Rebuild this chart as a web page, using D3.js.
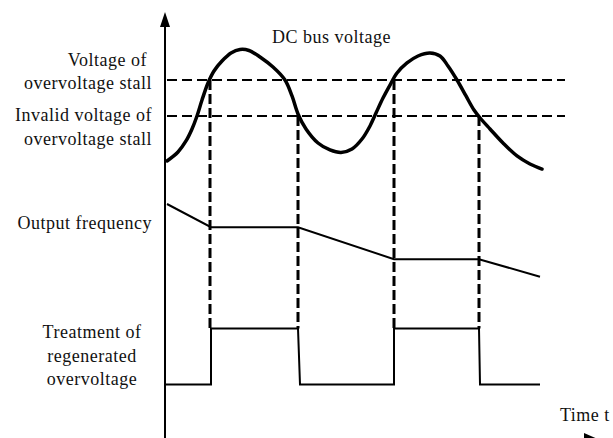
<!DOCTYPE html>
<html>
<head>
<meta charset="utf-8">
<script src="https://cdn.jsdelivr.net/npm/d3@7/dist/d3.min.js"></script>
<style>
  html, body { margin: 0; padding: 0; background: #fff; }
  svg { display: block; }
  text { font-family: "Liberation Serif", "Times New Roman", serif; font-size: 18px; letter-spacing: 0.5px; fill: #111; }
</style>
</head>
<body>
<svg id="chart" width="613" height="438"></svg>
<script>
// DC bus voltage over time (time units 0..100, voltage in relative units 0..100)
const busTime = [0.5, 3.25, 5.25, 6.75, 8, 9.25, 10.75, 12.25, 14.25, 16.5, 18.75, 21, 23.75, 27, 30,
  31.75, 33.25, 35.25, 38.25, 41.25, 44, 46.75, 49.25, 51.25, 52.75, 54.5, 56.25, 58, 60.5, 63.25,
  66.25, 68.75, 70.75, 73, 75.25, 77.25, 79, 81.25, 84.5, 88, 91.25, 94.25];
const busVoltage = [7.5, 15, 24.2, 34.2, 45, 58.3, 72.5, 82.5, 90.8, 97.5, 100.4, 99.6, 94.2, 85.8, 75,
  61.7, 46.7, 34.2, 22.5, 16.7, 14.6, 17.5, 25.8, 36.7, 47.5, 60, 70.8, 80.8, 89.2, 95,
  97.5, 95, 86.7, 75, 61.7, 50, 42.5, 34.2, 22.5, 11.7, 5, 0.8];

// Thresholds on the bus voltage
const stallVoltage = 75;     // voltage of overvoltage stall
const invalidVoltage = 45;   // invalid voltage of overvoltage stall

// Output frequency (relative units)
const freqTime = [0.5, 11.5, 33.25, 57.25, 78.5, 93.75];
const freqValue = [95, 66, 66, 26, 26, 4];

// Regenerated overvoltage treatment state (0 = off, 1 = on)
const stateTime = [0.25, 11.5, 11.5, 33.25, 33.75, 57.25, 57.25, 78.5, 78.75, 93.75];
const stateValue = [0, 0, 1, 1, 0, 0, 1, 1, 0, 0];

// Switching instants and the threshold reached at each
const eventTime = [11.25, 33.25, 57.25, 78.5];
const eventLevel = [stallVoltage, invalidVoltage, stallVoltage, invalidVoltage];

// Labels
const titleLabel = "DC bus voltage";
const stallLabel = ["Voltage of ", "overvoltage stall"];
const invalidLabel = ["Invalid voltage of", "overvoltage stall"];
const freqLabel = "Output frequency";
const treatLabel = ["Treatment of", "regenerated", "overvoltage"];
const timeLabel = "Time t";

const svg = d3.select("#chart");

const x = d3.scaleLinear().domain([0, 100]).range([165, 565]);
const yV = d3.scaleLinear().domain([0, 100]).range([170, 50]);
const yF = d3.scaleLinear().domain([0, 100]).range([280, 200]);
const yS = d3.scaleLinear().domain([0, 1]).range([384.5, 328.5]);

// Axes with arrowheads
const axisX = 165, axisTop = 12, axisY = 440;
svg.append("line").attr("x1", axisX).attr("x2", axisX).attr("y1", axisTop + 8).attr("y2", 445)
  .attr("stroke", "#000").attr("stroke-width", 2);
svg.append("path").attr("d", `M${axisX},${axisTop} L${axisX - 5},${axisTop + 15} L${axisX + 5},${axisTop + 15} Z`)
  .attr("fill", "#000");
svg.append("line").attr("x1", axisX).attr("x2", 590).attr("y1", axisY).attr("y2", axisY)
  .attr("stroke", "#000").attr("stroke-width", 2);
svg.append("path").attr("d", `M600,${axisY} L584,${axisY - 7} L584,${axisY + 7} Z`).attr("fill", "#000");

// Threshold lines
[stallVoltage, invalidVoltage].forEach(v => {
  svg.append("line")
    .attr("x1", x(0.5)).attr("x2", x(100))
    .attr("y1", yV(v)).attr("y2", yV(v))
    .attr("stroke", "#000").attr("stroke-width", 2)
    .attr("stroke-dasharray", "10,5");
});

// Vertical markers at each switching instant
eventTime.forEach((t, i) => {
  svg.append("line")
    .attr("x1", x(t)).attr("x2", x(t))
    .attr("y1", yV(eventLevel[i])).attr("y2", yS(1))
    .attr("stroke", "#000").attr("stroke-width", 3)
    .attr("stroke-dasharray", "10,4");
});

// Bus voltage curve
const busLine = d3.line().x(d => x(d[0])).y(d => yV(d[1])).curve(d3.curveCatmullRom.alpha(0.5));
svg.append("path")
  .datum(d3.zip(busTime, busVoltage))
  .attr("d", busLine)
  .attr("fill", "none").attr("stroke", "#000").attr("stroke-width", 3.5)
  .attr("stroke-linecap", "round");

// Output frequency
svg.append("path")
  .datum(d3.zip(freqTime, freqValue))
  .attr("d", d3.line().x(d => x(d[0])).y(d => yF(d[1])))
  .attr("fill", "none").attr("stroke", "#000").attr("stroke-width", 2);

// Treatment state
svg.append("path")
  .datum(d3.zip(stateTime, stateValue))
  .attr("d", d3.line().x(d => x(d[0])).y(d => yS(d[1])))
  .attr("fill", "none").attr("stroke", "#000").attr("stroke-width", 2);

// Text
svg.append("text").attr("x", 272).attr("y", 43).text(titleLabel);
stallLabel.forEach((s, i) => svg.append("text").attr("x", 152).attr("y", 66 + i * 23)
  .attr("text-anchor", "end").attr("xml:space", "preserve").text(s));
invalidLabel.forEach((s, i) => svg.append("text").attr("x", 152).attr("y", 121 + i * 24)
  .attr("text-anchor", "end").text(s));
svg.append("text").attr("x", 152).attr("y", 229).attr("text-anchor", "end").text(freqLabel);
treatLabel.forEach((s, i) => svg.append("text").attr("x", 92).attr("y", 338 + i * 23.5)
  .attr("text-anchor", "middle").text(s));
svg.append("text").attr("x", 560).attr("y", 421).text(timeLabel);
</script>
</body>
</html>
